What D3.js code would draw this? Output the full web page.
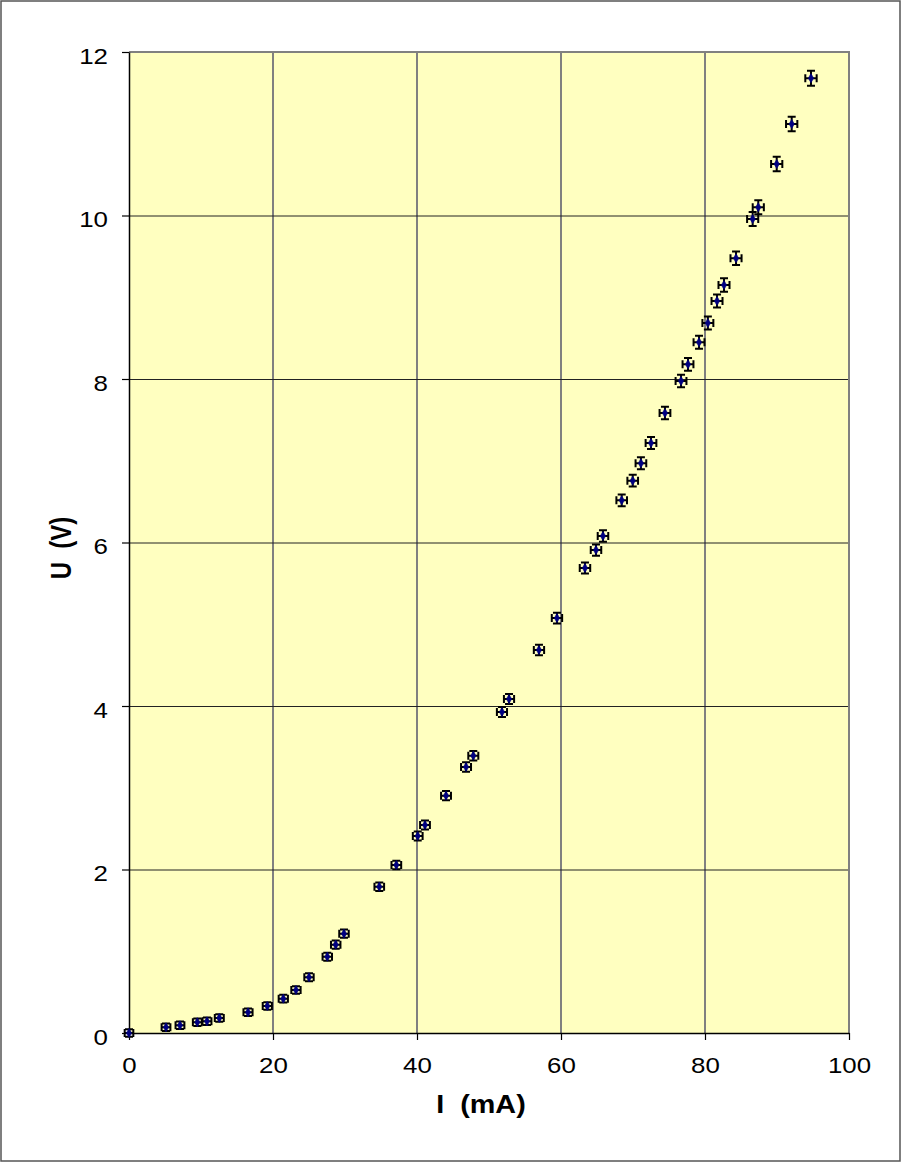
<!DOCTYPE html>
<html>
<head>
<meta charset="utf-8">
<script src="https://cdn.jsdelivr.net/npm/d3@7"></script>
<style>
  html, body { margin: 0; padding: 0; background: #fff; }
  svg { display: block; }
  text { font-family: "Liberation Sans", Arial, sans-serif; }
</style>
</head>
<body>
<svg id="chart" width="902" height="1163"></svg>
<script>
// Measured current I (mA)
const currentI = [0, 5.14, 7.08, 9.49, 10.83, 12.54, 16.53, 19.21, 21.43, 23.19, 25.0, 27.54, 28.71, 29.86,
  34.76, 37.13, 40.1, 41.11, 44.03, 46.81, 47.82, 51.8, 52.78, 56.94, 59.44, 63.33, 64.86, 65.83,
  68.43, 69.96, 71.1, 72.5, 74.44, 76.67, 77.64, 79.17, 80.4, 81.67, 82.64, 84.31, 86.62, 87.4,
  89.96, 92.04, 94.72];
// Measured voltage U (V)
const voltageU = [0, 0.07, 0.094, 0.132, 0.143, 0.184, 0.253, 0.33, 0.42, 0.526, 0.682, 0.934, 1.081, 1.215,
  1.79, 2.055, 2.41, 2.544, 2.903, 3.254, 3.392, 3.927, 4.086, 4.685, 5.076, 5.688, 5.908, 6.08,
  6.516, 6.756, 6.97, 7.217, 7.584, 7.976, 8.18, 8.45, 8.685, 8.954, 9.15, 9.477, 9.957, 10.10,
  10.63, 11.12, 11.68];
// Instrument accuracy used for error bars
const errI = { base: 0.6, rel: 0.002 };   // mA
const errU = { base: 0.045, rel: 0.004 }; // V

const xTicks = [0, 20, 40, 60, 80, 100];
const yTicks = [0, 2, 4, 6, 8, 10, 12];
const xTitle = "I  (mA)";
const yTitle = "U  (V)";

const svg = d3.select("#chart");
const L = 129, R = 849, T = 52, B = 1033;
const x = d3.scaleLinear().domain([0, 100]).range([L, R]);
const y = d3.scaleLinear().domain([0, 12]).range([B, T]);
const SX = 1.15; // horizontal text stretch

// outer frame
svg.append("rect").attr("x", 1).attr("y", 1).attr("width", 899).attr("height", 1160)
  .attr("fill", "#fff").attr("stroke", "#555").attr("stroke-width", 1.5);

// plot area
svg.append("rect").attr("x", L).attr("y", T).attr("width", R - L).attr("height", B - T)
  .attr("fill", "#FFFFC0");

// gridlines
svg.append("g").selectAll("line").data(xTicks.filter(d => d > 0 && d < 100)).join("line")
  .attr("x1", d => x(d)).attr("x2", d => x(d)).attr("y1", T).attr("y2", B)
  .attr("stroke", "#808080").attr("stroke-width", 2);
svg.append("g").selectAll("line").data(yTicks.filter(d => d > 0 && d < 12)).join("line")
  .attr("x1", L).attr("x2", R).attr("y1", d => y(d) + 0.5).attr("y2", d => y(d) + 0.5)
  .attr("stroke", "#222").attr("stroke-width", 1);

// plot border top/right
svg.append("path").attr("d", `M${L},${T}H${R}V${B}`).attr("fill", "none")
  .attr("stroke", "#808080").attr("stroke-width", 2);

// axes
const xAxis = d3.axisBottom(x).tickValues(xTicks).tickSizeInner(7).tickSizeOuter(0).tickPadding(8);
const yAxis = d3.axisLeft(y).tickValues(yTicks).tickSizeInner(7).tickSizeOuter(0).tickPadding(10);
const gx = svg.append("g").attr("transform", `translate(0,${B})`).call(xAxis);
const gy = svg.append("g").attr("transform", `translate(${L},0)`).call(yAxis);
[gx, gy].forEach(g => {
  g.select(".domain").attr("stroke", "#000").attr("stroke-width", 1.5);
  g.selectAll(".tick line").attr("stroke", "#000").attr("stroke-width", 1.2);
  g.selectAll(".tick text").attr("font-size", 22.5).attr("fill", "#000")
    .style("font-family", "'Liberation Sans', Arial, sans-serif");
});
gx.selectAll(".tick text").attr("dy", null).attr("y", 0)
  .attr("transform", `translate(0,40) scale(${SX},1)`);
gy.selectAll(".tick text").attr("dy", null).attr("x", 0)
  .attr("transform", `translate(-21,11) scale(${SX},1)`);

// axis titles
svg.append("text").attr("transform", `translate(481,1113) scale(${SX},1)`)
  .attr("text-anchor", "middle").attr("font-size", 25).attr("font-weight", "bold")
  .attr("xml:space", "preserve").style("white-space", "pre").text(xTitle);
svg.append("text").attr("transform", `translate(71,548) scale(${SX + 0.1},1) rotate(-90)`)
  .attr("text-anchor", "middle").attr("font-size", 24).attr("font-weight", "bold")
  .attr("xml:space", "preserve").style("white-space", "pre").text(yTitle);

// data with error bars
const data = currentI.map((I, i) => ({ I, U: voltageU[i] }));
const cap = 4;
const eb = svg.append("g").attr("stroke", "#000").attr("stroke-width", 2).attr("fill", "none");
data.forEach(d => {
  const ex = errI.base + errI.rel * d.I;
  const ey = errU.base + errU.rel * d.U;
  const cx = x(d.I), cy = y(d.U);
  const x0 = x(d.I - ex), x1 = x(d.I + ex), y0 = y(d.U - ey), y1 = y(d.U + ey);
  eb.append("path").attr("d",
    `M${x0},${cy}H${x1}` +
    `M${x0},${cy - cap}V${cy + cap}M${x1},${cy - cap}V${cy + cap}` +
    `M${cx},${y0}V${y1}` +
    `M${cx - cap},${y0}H${cx + cap}M${cx - cap},${y1}H${cx + cap}`);
});
svg.append("g").selectAll("path").data(data).join("path")
  .attr("transform", d => `translate(${x(d.I)},${y(d.U)})`)
  .attr("d", d3.symbol().type(d3.symbolDiamond).size(24))
  .attr("fill", "#000080").attr("stroke", "#000080").attr("stroke-width", 0.6);
</script>
</body>
</html>
